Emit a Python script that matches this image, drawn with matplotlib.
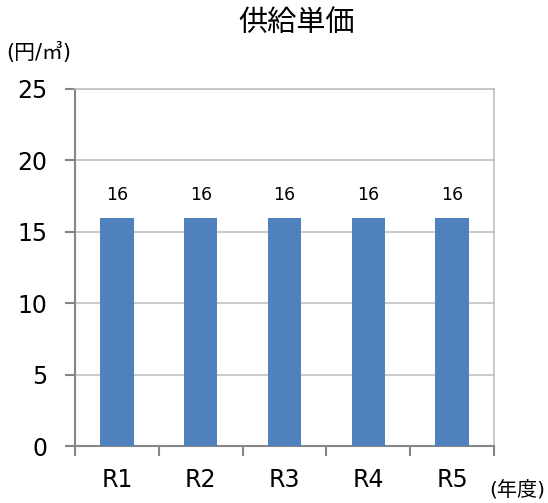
import matplotlib.pyplot as plt

plt.rcParams['font.family'] = ['DejaVu Sans', 'Noto Sans CJK JP']

years = ['R1', 'R2', 'R3', 'R4', 'R5']
price = [16, 16, 16, 16, 16]
yticks = [0, 5, 10, 15, 20, 25]

fig = plt.figure(figsize=(5.48, 5.03), dpi=100)
ax = fig.add_axes([0.1369, 0.1133, 0.7646, 0.7098])

x = range(len(years))
bars = ax.bar(x, price, width=0.4, color='#4f81bd', zorder=3)
for b, v in zip(bars, price):
    ax.annotate(str(v), (b.get_x() + b.get_width() / 2, v), xytext=(0, 10),
                textcoords='offset points', ha='center', va='bottom', fontsize=12.5)

ax.set_xlim(-0.5, len(years) - 0.5)
ax.set_ylim(0, 25)
ax.set_yticks(yticks)
ax.set_yticklabels([str(t) for t in yticks], fontsize=17)
ax.set_xticks(list(x))
ax.set_xticklabels(years, fontsize=17)
ax.tick_params(axis='x', length=0, pad=16)
ax.set_xticks([i - 0.5 for i in range(len(years) + 1)], minor=True)
ax.tick_params(axis='x', which='minor', length=7, color='#868686', width=1.5)
ax.tick_params(axis='y', length=7, color='#868686', width=1.5, pad=13)

ax.grid(axis='y', color='#c0c0c0', linewidth=1.2, zorder=0)
for s in ['left', 'bottom']:
    ax.spines[s].set_color('#868686')
    ax.spines[s].set_linewidth(1.5)
for s in ['top', 'right']:
    ax.spines[s].set_color('#c0c0c0')
    ax.spines[s].set_linewidth(1.2)

fig.text(0.542, 0.954, '供給単価', ha='center', va='center', fontsize=21)
fig.text(0.012, 0.895, '(円/㎥)', ha='left', va='center', fontsize=15)
fig.text(0.893, 0.027, '(年度)', ha='left', va='center', fontsize=14.5)

fig.savefig('out.png', dpi=100)
